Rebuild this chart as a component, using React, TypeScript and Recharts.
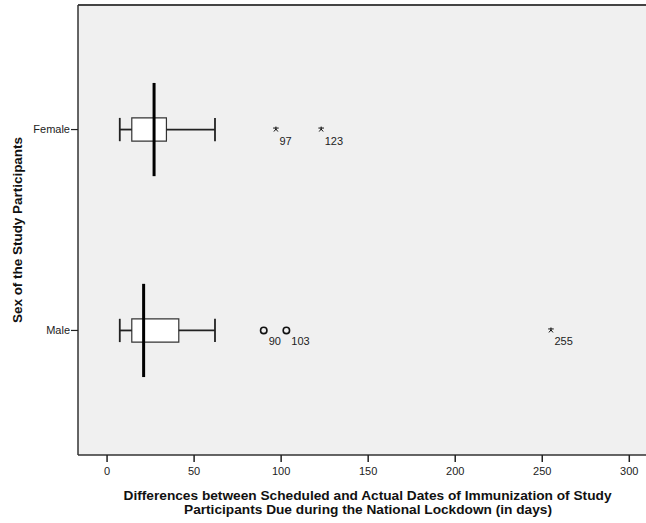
import React from "react";
import {
  ComposedChart,
  XAxis,
  YAxis,
  CartesianGrid,
  ReferenceArea,
  ReferenceLine,
  Scatter,
  Label,
} from "recharts";

// Group positions on the vertical axis
const groups = ["Male", "Female"];
const groupPos = [1, 2];

// Five-number summaries (days)
const whiskerLow = [7.3, 7.3];
const quartile1 = [14.2, 14.2];
const medians = [21, 27];
const quartile3 = [41.2, 34.1];
const whiskerHigh = [62, 62];

// Outlying cases: value, group position and marker kind
const outlierValues = [90, 103, 255, 97, 123];
const outlierGroup = [1, 1, 1, 2, 2];
const outlierKind = ["circle", "circle", "star", "star", "star"];

const xTicks = [0, 50, 100, 150, 200, 250, 300];

const xTitle = [
  "Differences between Scheduled and Actual Dates of Immunization of Study",
  "Participants Due during the National Lockdown (in days)",
];
const yTitle = "Sex of the Study Participants";

const outliers = outlierValues.map((v, i) => ({
  x: v,
  y: outlierGroup[i],
  kind: outlierKind[i],
}));

const BOX_HALF = 0.058;
const MEDIAN_HALF = 0.232;

const tickFont = "'Liberation Sans', Arial, sans-serif";
const titleFont = "'Liberation Sans Narrow', 'Liberation Sans', Arial, sans-serif";

const OutlierMark = (props: any) => {
  const { cx, cy, payload } = props;
  if (cx == null || cy == null) return null;
  const mark =
    payload.kind === "circle" ? (
      <circle cx={cx} cy={cy} r={3.2} fill="none" stroke="#111" strokeWidth={1.6} />
    ) : (
      <g stroke="#111" strokeWidth={1}>
        <line x1={cx} y1={cy - 3} x2={cx} y2={cy + 0.5} />
        <line x1={cx - 2.8} x2={cx + 2.8} y1={cy - 1.5} y2={cy - 1.5} />
        <line x1={cx - 2} y1={cy + 2} x2={cx} y2={cy - 0.5} />
        <line x1={cx + 2} y1={cy + 2} x2={cx} y2={cy - 0.5} />
      </g>
    );
  return (
    <g>
      {mark}
      <text
        x={cx + (payload.kind === "circle" ? 5 : 3.5)}
        y={cy + 15}
        fontSize={11}
        fontFamily={tickFont}
        fill="#222"
      >
        {payload.x}
      </text>
    </g>
  );
};

export default function App() {
  return (
    <div style={{ position: "absolute", left: 0, top: 0, background: "#fff" }}>
      <ComposedChart
        width={646}
        height={523}
        margin={{ top: 5, right: 0, bottom: 0, left: 0 }}
      >
        <CartesianGrid
          horizontal={false}
          vertical={false}
          fill="#f0f0f0"
          stroke="none"
        />
        <XAxis
          type="number"
          dataKey="x"
          domain={[-16.7, 309.6]}
          ticks={xTicks}
          allowDataOverflow
          height={68}
          axisLine={{ stroke: "#333", strokeWidth: 1.5 }}
          tickLine={{ stroke: "#222", strokeWidth: 1.5 }}
          tickSize={7}
          tickMargin={5}
          tick={{ fontSize: 11, fontFamily: tickFont, fill: "#222" }}
        >
          <Label
            content={() => (
              <g fontFamily={titleFont} fontWeight="bold" fontSize={13} fill="#111">
                <text
                  x={367.5}
                  y={499.5}
                  textAnchor="middle"
                  textLength={488}
                  lengthAdjust="spacingAndGlyphs"
                >
                  {xTitle[0]}
                </text>
                <text
                  x={368}
                  y={514}
                  textAnchor="middle"
                  textLength={368}
                  lengthAdjust="spacingAndGlyphs"
                >
                  {xTitle[1]}
                </text>
              </g>
            )}
          />
        </XAxis>
        <YAxis
          type="number"
          dataKey="y"
          domain={[0.38, 2.62]}
          ticks={groupPos}
          allowDataOverflow
          width={78}
          axisLine={{ stroke: "#333", strokeWidth: 1.5 }}
          tickLine={{ stroke: "#222", strokeWidth: 1.2 }}
          tickSize={7}
          tickMargin={1}
          tick={{ fontSize: 11, fontFamily: tickFont, fill: "#222" }}
          tickFormatter={(v: number) => groups[groupPos.indexOf(v)] ?? ""}
        >
          <Label
            content={() => (
              <text
                x={22}
                y={230}
                transform="rotate(-90 22 230)"
                textAnchor="middle"
                fontFamily={titleFont}
                fontWeight="bold"
                fontSize={13}
                fill="#111"
                textLength={186}
                lengthAdjust="spacingAndGlyphs"
              >
                {yTitle}
              </text>
            )}
          />
        </YAxis>
        <ReferenceLine y={2.62} stroke="#444" strokeWidth={2} />

        {groupPos.map((g, i) => (
          <ReferenceLine
            key={`wl-${i}`}
            segment={[
              { x: whiskerLow[i], y: g },
              { x: quartile1[i], y: g },
            ]}
            stroke="#222"
            strokeWidth={1.8}
          />
        ))}
        {groupPos.map((g, i) => (
          <ReferenceLine
            key={`wh-${i}`}
            segment={[
              { x: quartile3[i], y: g },
              { x: whiskerHigh[i], y: g },
            ]}
            stroke="#222"
            strokeWidth={1.8}
          />
        ))}
        {groupPos.map((g, i) => (
          <ReferenceLine
            key={`cl-${i}`}
            segment={[
              { x: whiskerLow[i], y: g - BOX_HALF },
              { x: whiskerLow[i], y: g + BOX_HALF },
            ]}
            stroke="#222"
            strokeWidth={1.8}
          />
        ))}
        {groupPos.map((g, i) => (
          <ReferenceLine
            key={`ch-${i}`}
            segment={[
              { x: whiskerHigh[i], y: g - BOX_HALF },
              { x: whiskerHigh[i], y: g + BOX_HALF },
            ]}
            stroke="#222"
            strokeWidth={1.8}
          />
        ))}
        {groupPos.map((g, i) => (
          <ReferenceArea
            key={`box-${i}`}
            x1={quartile1[i]}
            x2={quartile3[i]}
            y1={g - BOX_HALF}
            y2={g + BOX_HALF}
            fill="#ffffff"
            fillOpacity={1}
            stroke="#333"
            strokeWidth={1.2}
          />
        ))}
        {groupPos.map((g, i) => (
          <ReferenceLine
            key={`md-${i}`}
            segment={[
              { x: medians[i], y: g - MEDIAN_HALF },
              { x: medians[i], y: g + MEDIAN_HALF },
            ]}
            stroke="#000"
            strokeWidth={3}
          />
        ))}

        <Scatter
          data={outliers}
          dataKey="y"
          shape={OutlierMark}
          isAnimationActive={false}
        />
      </ComposedChart>
    </div>
  );
}
